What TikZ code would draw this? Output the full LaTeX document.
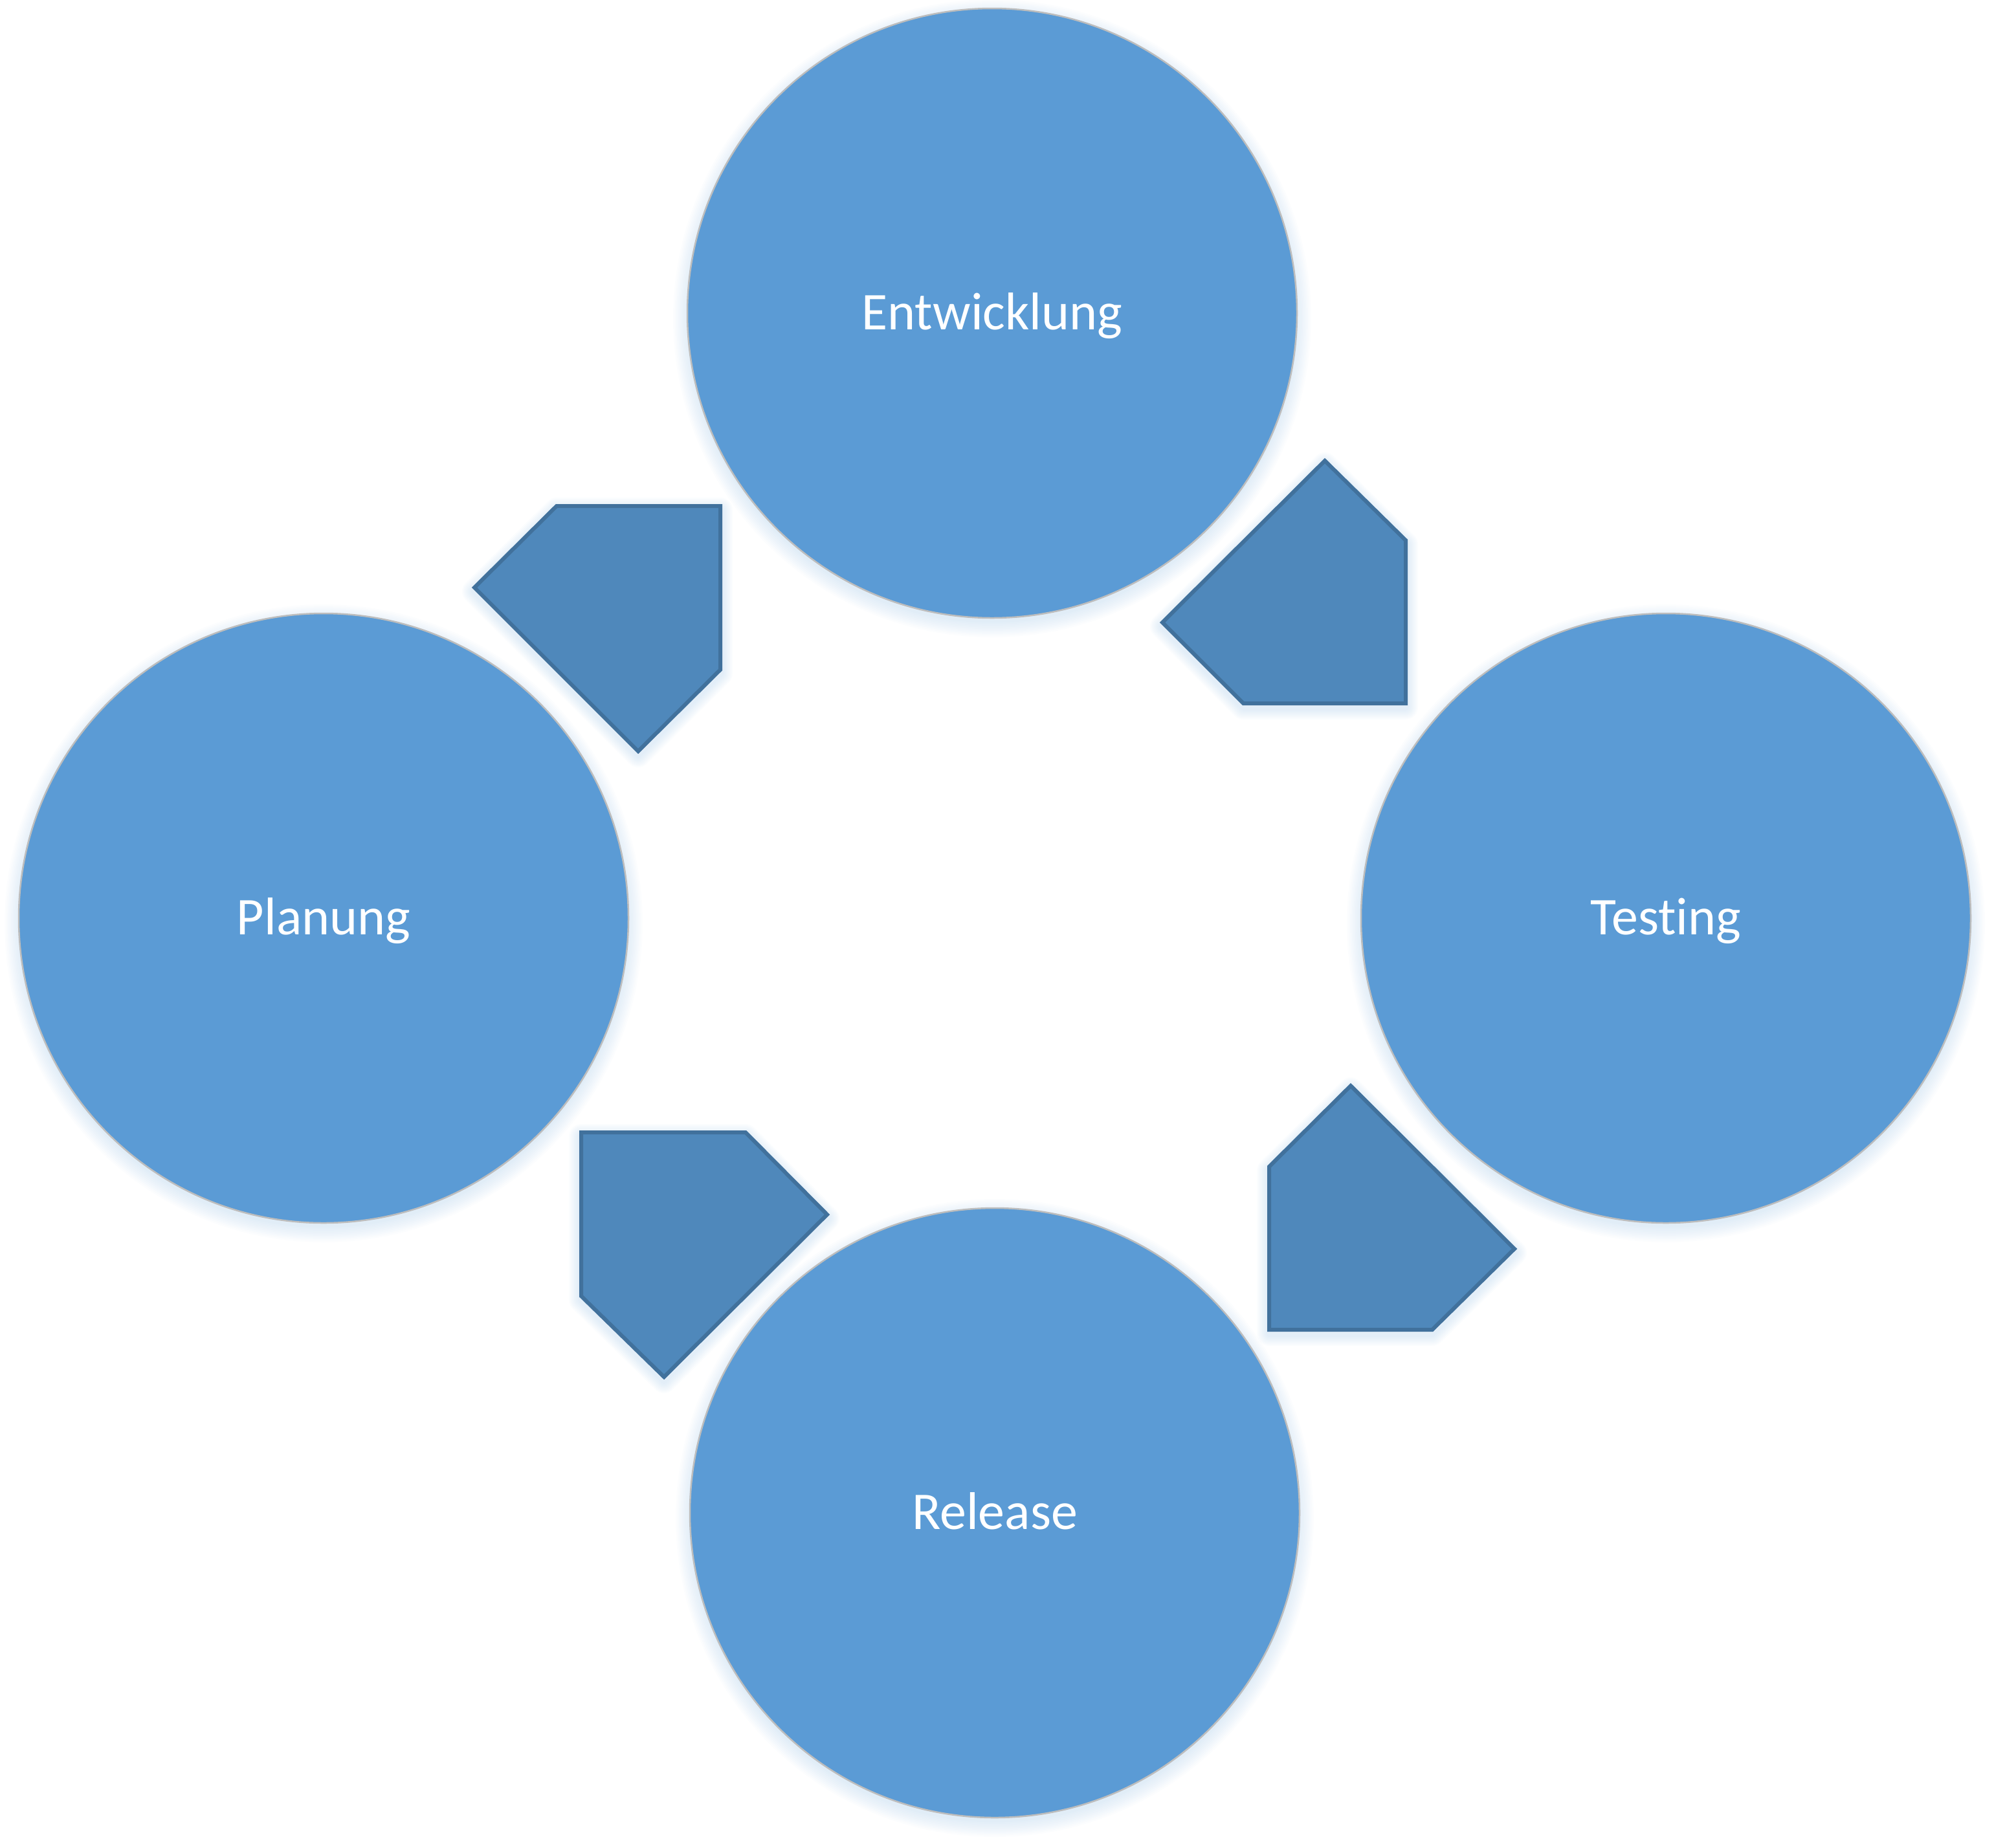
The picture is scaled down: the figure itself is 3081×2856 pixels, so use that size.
\documentclass[tikz,border=0pt]{standalone}
\usepackage{fontspec}
\setmainfont{Carlito}[Ligatures=NoCommon]
\definecolor{circfill}{HTML}{5B9BD5}
\definecolor{arrfill}{HTML}{4F88BB}
\definecolor{arrline}{HTML}{41719C}
\definecolor{circline}{HTML}{BDBDBD}
\definecolor{glow}{HTML}{5B9BD5}
\begin{document}
\begin{tikzpicture}[x=1pt,y=-1pt,
  phase/.style={circle, minimum size=942pt, inner sep=0pt, fill=circfill, draw=circline,
    line width=2.5pt, text=white, font=\fontsize{82}{98}\selectfont, text height=50pt, text depth=0pt},
  arrowshape/.style={fill=arrfill, draw=arrline, line width=6pt, line join=miter},
  arrowglow/.style={draw=glow, opacity=0.025, line join=round},
  circglow/.style={fill=glow, opacity=0.02}
]
\useasboundingbox (0,0) rectangle (3081,2856);
% soft shadows of the circles
\foreach \px/\py in {1533/484, 500/1419, 2574/1419, 1537/2338} {
  \foreach \k in {1,...,10} {
    \fill[circglow] (\px,\py+8) circle[radius=468pt+2.5pt*\k];
  }
}
% arrow shadows
\foreach \ax/\ay/\bx/\by/\cx/\cy/\dx/\dy/\ex/\ey in {
  860/782/1113/782/1113/1035/986/1161/733/908,
  2047/712/2172/835/2172/1087/1921/1087/1796/962,
  2087/1678/2340/1930/2213/2055/1961/2055/1961/1803,
  898/1750/1152/1750/1278/1877/1026/2128/898/2003} {
  \foreach \k in {1,...,8} {
    \draw[arrowglow, line width=6pt+4pt*\k] (\ax,\ay+6) -- (\bx,\by+6) -- (\cx,\cy+6) -- (\dx,\dy+6) -- (\ex,\ey+6) -- cycle;
  }
}
% phases
\node[phase] (ent) at (1533,484) {Entwicklung};
\node[phase] (plan) at (500,1419) {Planung};
\node[phase] (test) at (2574,1419) {Testing};
\node[phase] (rel) at (1537,2338) {Release};
% cycle arrows
\foreach \ax/\ay/\bx/\by/\cx/\cy/\dx/\dy/\ex/\ey in {
  860/782/1113/782/1113/1035/986/1161/733/908,
  2047/712/2172/835/2172/1087/1921/1087/1796/962,
  2087/1678/2340/1930/2213/2055/1961/2055/1961/1803,
  898/1750/1152/1750/1278/1877/1026/2128/898/2003} {
  \draw[arrowshape] (\ax,\ay) -- (\bx,\by) -- (\cx,\cy) -- (\dx,\dy) -- (\ex,\ey) -- cycle;
}
\end{tikzpicture}
\end{document}
